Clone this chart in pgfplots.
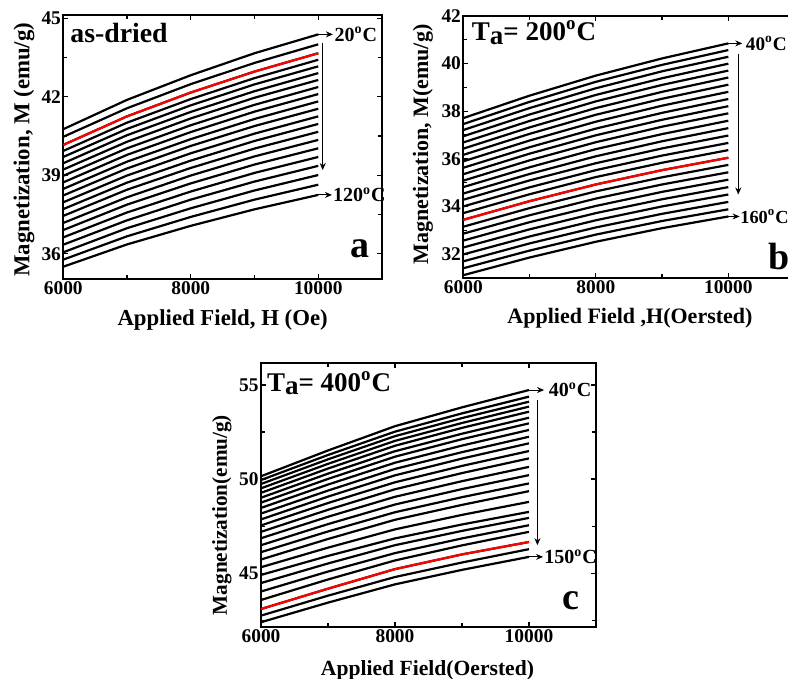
\documentclass[border=0pt]{standalone}
\usepackage{fontspec}
\setmainfont{Liberation Serif}
\usepackage{pgfplots}
\pgfplotsset{compat=1.18}
\usepackage{pgfplotstable}
\usetikzlibrary{arrows.meta}

\newcommand{\fs}[1]{\fontsize{#1}{#1}\selectfont\bfseries}

% M(H) curves, one column per measuring temperature (top curve = lowest T)
\pgfplotstableread{
H     c0    c1    c2    c3    c4    c5    c6    c7    c8    c9    c10   c11   c12   c13   c14   c15   c16   c17   c18   c19   c20
6000  40.76 40.47 40.16 39.93 39.70 39.46 39.22 38.98 38.73 38.48 38.23 37.97 37.71 37.45 37.18 36.91 36.63 36.35 36.06 35.78 35.51
7000  41.88 41.56 41.25 41.01 40.77 40.53 40.28 40.03 39.78 39.52 39.26 38.99 38.72 38.45 38.16 37.88 37.58 37.28 36.98 36.67 36.36
8000  42.82 42.48 42.16 41.91 41.67 41.42 41.17 40.91 40.65 40.38 40.12 39.84 39.56 39.28 38.99 38.69 38.38 38.07 37.74 37.41 37.07
9000  43.66 43.29 42.96 42.71 42.47 42.21 41.96 41.69 41.43 41.15 40.88 40.59 40.31 40.02 39.72 39.41 39.09 38.76 38.42 38.07 37.70
10000 44.38 44.00 43.66 43.41 43.16 42.90 42.64 42.37 42.10 41.82 41.54 41.25 40.96 40.66 40.35 40.03 39.70 39.36 39.01 38.64 38.25
}\tabA

\pgfplotstableread{
H     c0    c1    c2    c3    c4    c5    c6    c7    c8    c9    c10   c11   c12   c13   c14   c15   c16   c17   c18   c19   c20   c21   c22   c23   c24
6000  37.71 37.46 37.21 36.95 36.69 36.43 36.17 35.90 35.63 35.36 35.09 34.82 34.55 34.29 34.01 33.73 33.45 33.16 32.87 32.58 32.29 32.00 31.71 31.42 31.13
7000  38.65 38.39 38.13 37.86 37.59 37.32 37.05 36.77 36.49 36.22 35.94 35.65 35.37 35.10 34.81 34.52 34.23 33.94 33.64 33.35 33.05 32.75 32.46 32.16 31.87
8000  39.49 39.23 38.96 38.68 38.41 38.13 37.85 37.56 37.27 36.99 36.70 36.41 36.11 35.82 35.53 35.24 34.93 34.64 34.34 34.03 33.73 33.43 33.13 32.83 32.53
9000  40.21 39.94 39.67 39.38 39.10 38.81 38.52 38.23 37.93 37.64 37.35 37.04 36.74 36.44 36.14 35.84 35.53 35.23 34.93 34.62 34.31 34.01 33.70 33.40 33.10
10000 40.84 40.56 40.28 39.99 39.70 39.41 39.11 38.81 38.51 38.21 37.91 37.60 37.29 36.98 36.67 36.37 36.05 35.75 35.44 35.13 34.82 34.51 34.20 33.89 33.59
}\tabB

\pgfplotstableread{
H     c0    c1    c2    c3    c4    c5    c6    c7    c8    c9    c10   c11   c12   c13   c14   c15   c16   c17   c18   c19   c20   c21   c22   c23
6000  50.15 49.95 49.74 49.51 49.27 49.01 48.75 48.47 48.17 47.86 47.54 47.20 46.86 46.49 46.12 45.73 45.32 44.91 44.48 44.03 43.58 43.10 42.75 42.40
7000  51.52 51.28 51.05 50.81 50.56 50.29 50.01 49.71 49.39 49.07 48.73 48.37 48.00 47.61 47.22 46.82 46.36 45.92 45.52 45.09 44.67 44.18 43.81 43.44
8000  52.81 52.52 52.28 52.03 51.77 51.48 51.19 50.87 50.54 50.20 49.83 49.46 49.06 48.65 48.24 47.84 47.33 46.85 46.49 46.07 45.68 45.22 44.80 44.41
9000  53.81 53.49 53.24 52.98 52.72 52.41 52.12 51.78 51.43 51.09 50.70 50.32 49.89 49.47 49.04 48.63 48.10 47.59 47.25 46.85 46.48 46.00 45.57 45.18
10000 54.73 54.38 54.11 53.85 53.58 53.26 52.96 52.61 52.25 51.90 51.49 51.10 50.65 50.21 49.77 49.36 48.79 48.26 47.94 47.55 47.20 46.66 46.28 45.87
}\tabC

\tikzset{
  mcurve/.style={black, line width=1.1pt, no markers},
  rcurve/.style={red, line width=1.1pt, no markers},
  ann/.style={line width=0.5pt, -{Stealth[length=3.5pt,width=3pt]}},
}
\pgfplotsset{
  magstyle/.style={
    scale only axis, anchor=south west,
    xmin=6000, xmax=11000,
    scaled x ticks=false, scaled y ticks=false,
    xtick={6000,8000,10000}, xticklabels={6000,8000,10000},
    minor xtick={7000,9000,11000},
    tick pos=both, tick align=inside,
    major tick length=2.5pt, minor tick length=2pt,
    major tick style={line width=0.6pt, black},
    minor tick style={line width=0.6pt, black},
    axis line style={line width=1pt},
    tick label style={font=\fs{9.7}},
    xticklabel style={inner sep=1pt},
    yticklabel style={inner sep=1pt},
    clip=false,
  },
}

\begin{document}
\begin{tikzpicture}
\path[use as bounding box] (0,0) rectangle (394pt,339.5pt);

%% (a) as-dried
\begin{axis}[magstyle, at={(31.65pt,200pt)}, width=159.35pt, height=132pt,
  ymin=35.04, ymax=45.12,
  ytick={36,39,42,45}, yticklabels={36,39,42,45}, minor ytick={37.5,40.5,43.5},
  xlabel={Applied Field, H (Oe)}, ylabel={Magnetization, M (emu/g)},
  xlabel style={at={(axis description cs:0.5,-0.155)}, anchor=center, font=\fs{11.4}},
  ylabel style={at={(axis description cs:-0.123,0.49)}, anchor=center, font=\fs{11.4}},
]
\pgfplotsinvokeforeach{0,...,20}{\addplot[mcurve] table[x=H,y=c#1]{\tabA};}
\addplot[rcurve] table[x=H,y=c2]{\tabA};
\draw[ann] (axis cs:10000,44.38) -- (axis cs:10230,44.38);
\node[anchor=west, inner sep=0pt, font=\fs{10}] at (axis cs:10250,44.38) {20\textsuperscript{o}C};
\draw[ann] (axis cs:10070,44.05) -- (axis cs:10070,39.20);
\draw[ann] (axis cs:10000,38.25) -- (axis cs:10215,38.25);
\node[anchor=west, inner sep=0pt, font=\fs{10}] at (axis cs:10225,38.25) {120\textsuperscript{o}C};
\node[anchor=west, inner sep=0pt, font=\fs{13.9}] at (rel axis cs:0.021,0.93) {as-dried};
\node[anchor=base west, inner sep=0pt, font=\fs{19}] at (rel axis cs:0.90,0.08) {a};
\end{axis}

%% (b) Ta = 200 C, cut at the right edge as in the original figure
\begin{scope}
\clip (0,0) rectangle (394pt,339.5pt);
\begin{axis}[magstyle, at={(231.65pt,200.35pt)}, width=165.65pt, height=131.3pt,
  ymin=31, ymax=42,
  ytick={32,34,36,38,40,42}, yticklabels={32,34,36,38,40,42}, minor ytick={33,35,37,39,41},
  xlabel={Applied Field ,H(Oersted)}, ylabel={Magnetization, M(emu/g)},
  xlabel style={at={(axis description cs:0.503,-0.151)}, anchor=center, font=\fs{11}},
  ylabel style={at={(axis description cs:-0.122,0.51)}, anchor=center, font=\fs{11}},
]
\pgfplotsinvokeforeach{0,...,24}{\addplot[mcurve] table[x=H,y=c#1]{\tabB};}
\addplot[rcurve] table[x=H,y=c16]{\tabB};
\draw[ann] (axis cs:10000,40.84) -- (axis cs:10210,40.84);
\node[anchor=west, inner sep=0pt, font=\fs{9.6}] at (axis cs:10260,40.84) {40\textsuperscript{o}C};
\draw[ann] (axis cs:10150,40.41) -- (axis cs:10150,34.51);
\draw[ann] (axis cs:10000,33.59) -- (axis cs:10170,33.59);
\node[anchor=west, inner sep=0pt, font=\fs{9.2}] at (axis cs:10175,33.59) {160\textsuperscript{o}C};
\node[anchor=west, inner sep=0pt, font=\fs{13.5}] at (rel axis cs:0.025,0.935) {T\raisebox{-0.3ex}{a}= 200\textsuperscript{o}C};
\node[anchor=base west, inner sep=0pt, font=\fs{19}] at (rel axis cs:0.92,0.032) {b};
\end{axis}
\end{scope}

%% (c) Ta = 400 C
\begin{axis}[magstyle, at={(130.5pt,25.85pt)}, width=167.5pt, height=132pt,
  ymin=42.13, ymax=56.15,
  ytick={45,50,55}, yticklabels={45,50,55}, minor ytick={42.5,47.5,52.5},
  xlabel={Applied Field(Oersted)}, ylabel={Magnetization(emu/g)},
  xlabel style={at={(axis description cs:0.497,-0.162)}, anchor=center, font=\fs{10.8}},
  ylabel style={at={(axis description cs:-0.117,0.425)}, anchor=center, font=\fs{10.6}},
]
\pgfplotsinvokeforeach{0,...,23}{\addplot[mcurve] table[x=H,y=c#1]{\tabC};}
\addplot[rcurve] table[x=H,y=c21]{\tabC};
\draw[ann] (axis cs:10000,54.73) -- (axis cs:10225,54.73);
\node[anchor=west, inner sep=0pt, font=\fs{10}] at (axis cs:10290,54.73) {40\textsuperscript{o}C};
\draw[ann] (axis cs:10126,54.2) -- (axis cs:10126,46.49);
\draw[ann] (axis cs:10000,45.87) -- (axis cs:10210,45.87);
\node[anchor=west, inner sep=0pt, font=\fs{10}] at (axis cs:10225,45.87) {150\textsuperscript{o}C};
\node[anchor=west, inner sep=0pt, font=\fs{13.5}] at (rel axis cs:0.017,0.924) {T\raisebox{-0.3ex}{a}= 400\textsuperscript{o}C};
\node[anchor=base west, inner sep=0pt, font=\fs{19}] at (rel axis cs:0.898,0.066) {c};
\end{axis}
\end{tikzpicture}
\end{document}
